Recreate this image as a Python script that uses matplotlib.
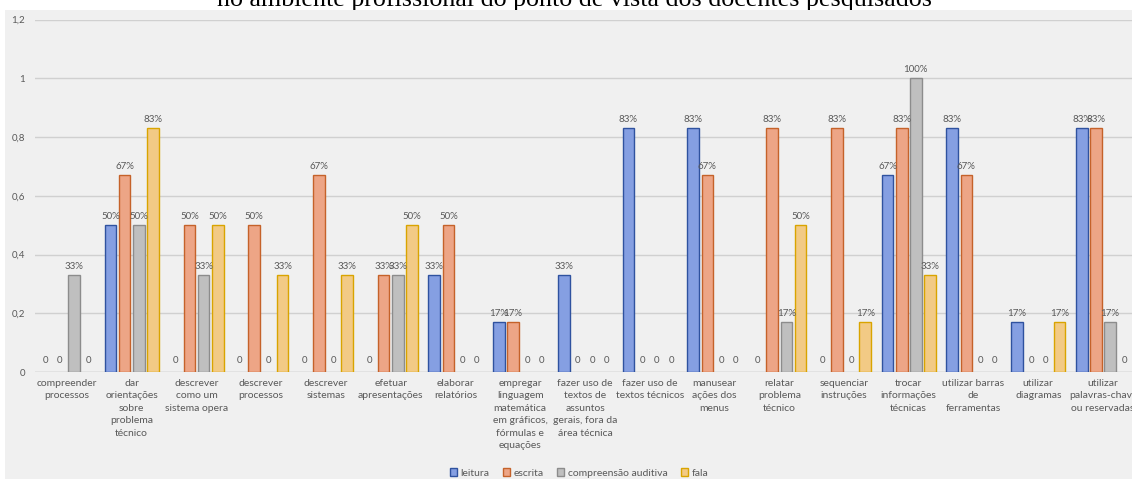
import matplotlib
matplotlib.use("Agg")
import matplotlib.pyplot as plt
import numpy as np
from matplotlib.patches import Rectangle, Patch

categories = [
    "compreender\nprocessos",
    "dar\norientações\nsobre\nproblema\ntécnico",
    "descrever\ncomo um\nsistema opera",
    "descrever\nprocessos",
    "descrever\nsistemas",
    "efetuar\napresentações",
    "elaborar\nrelatórios",
    "empregar\nlinguagem\nmatemática\nem gráficos,\nfórmulas e\nequações",
    "fazer uso de\ntextos de\nassuntos\ngerais, fora da\nárea técnica",
    "fazer uso de\ntextos técnicos",
    "manusear\nações dos\nmenus",
    "relatar\nproblema\ntécnico",
    "sequenciar\ninstruções",
    "trocar\ninformações\ntécnicas",
    "utilizar barras\nde\nferramentas",
    "utilizar\ndiagramas",
    "utilizar\npalavras-chave\nou reservadas",
]
series_names = ["leitura", "escrita", "compreensão auditiva", "fala"]
leitura = [0, 0.50, 0, 0, 0, 0, 0.33, 0.17, 0.33, 0.83, 0.83, 0, 0, 0.67, 0.83, 0.17, 0.83]
escrita = [0, 0.67, 0.50, 0.50, 0.67, 0.33, 0.50, 0.17, 0, 0, 0.67, 0.83, 0.83, 0.83, 0.67, 0, 0.83]
compreensao = [0.33, 0.50, 0.33, 0, 0, 0.33, 0, 0, 0, 0, 0, 0.17, 0, 1.00, 0, 0, 0.17]
fala = [0, 0.83, 0.50, 0.33, 0.33, 0.50, 0, 0, 0, 0, 0, 0.50, 0.17, 0.33, 0, 0.17, 0]
yticks = [0, 0.2, 0.4, 0.6, 0.8, 1.0, 1.2]
ytick_labels = ["0", "0,2", "0,4", "0,6", "0,8", "1", "1,2"]
title = "no ambiente profissional do ponto de vista dos docentes pesquisados"

series = [leitura, escrita, compreensao, fala]
fills = ["#859fe2", "#eda586", "#bfbfbf", "#f2ca85"]
edges = ["#2f529f", "#c5622a", "#8c8c8c", "#d9a400"]

plt.rcParams['font.family'] = ['Lato', 'DejaVu Sans']
txt = "#595959"

W, H = 1132, 479
fig = plt.figure(figsize=(W / 100, H / 100), dpi=100)
fig.patch.set_facecolor("white")
fig.patches.append(Rectangle((5 / W, 0), 1, 1 - 10 / H, transform=fig.transFigure,
                             facecolor="#f0f0f0", edgecolor="none", zorder=-10))

fig.text(575 / W, 1 - 6 / H, title, ha="center", va="baseline",
         fontsize=18.7, family="Liberation Serif", color="#000000", zorder=-20)

left = 34.6 / W
right = 1135.4 / W
ax = fig.add_axes([left, (H - 372) / H, right - left, (372 - 19.5) / H])
ax.set_facecolor("none")

n = len(categories)
x = np.arange(n)
step = 0.219
bw = 0.18
for i, (vals, fc, ec) in enumerate(zip(series, fills, edges)):
    off = (i - 1.5) * step
    ax.bar(x + off, vals, width=bw, color=fc, edgecolor=ec,
           linewidth=[1.0 if v else 0 for v in vals], zorder=3)
    for xi, v in zip(x, vals):
        lab = "0" if v == 0 else f"{round(v * 100)}%"
        ax.annotate(lab, (xi + off, v), xytext=(0, 3 if v else 5),
                    textcoords="offset points", ha="center", va="bottom",
                    fontsize=7, color=txt, zorder=4)

ax.set_xlim(-0.5, n - 0.5)
ax.set_ylim(0, 1.2)
ax.set_yticks(yticks)
ax.set_yticklabels(ytick_labels)
ax.set_xticks(x)
ax.set_xticklabels(categories, fontsize=7.5, color=txt, linespacing=1.5)
ax.tick_params(axis="x", length=0, pad=5)
ax.tick_params(axis="y", length=0, pad=7, labelsize=7, labelcolor=txt)
ax.yaxis.grid(True, color="#d0d0d0", linewidth=1.0, zorder=0)
for s in ax.spines.values():
    s.set_visible(False)
ax.axhline(0, color="#c8c8c8", linewidth=1.0, zorder=2)

handles = [Patch(facecolor=fc, edgecolor=ec, linewidth=1.0, label=nm)
           for fc, ec, nm in zip(fills, edges, series_names)]
leg = fig.legend(handles=handles, loc="center", bbox_to_anchor=(579 / W, 1 - 473 / H), ncol=4,
                 frameon=False, fontsize=7.5, handlelength=0.7, handleheight=0.8,
                 handletextpad=0.3, columnspacing=1.3, labelcolor=txt)

fig.savefig("out.png", dpi=100, facecolor=fig.get_facecolor())
